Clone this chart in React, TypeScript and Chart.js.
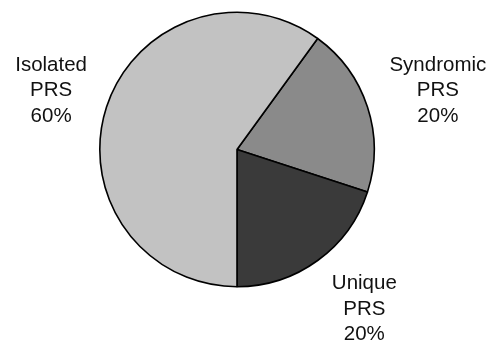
import React, { useEffect, useRef } from "react";
import { Chart, registerables } from "chart.js";

Chart.register(...registerables);

const categories = ["Syndromic", "Unique", "Isolated"];
const subLabels = ["PRS", "PRS", "PRS"];
const values = [20, 20, 60];
const colors = ["#8a8a8a", "#3a3a3a", "#c2c2c2"];
// label anchor offsets relative to pie center, in radius units
const labelOffsets = [
  [1.464, -0.43],
  [0.928, 1.163],
  [-1.355, -0.43],
];

const labelPlugin = {
  id: "outerLabels",
  afterDatasetsDraw(chart: any) {
    const meta = chart.getDatasetMeta(0);
    const ctx = chart.ctx;
    ctx.save();
    ctx.fillStyle = "#111";
    ctx.font = "20.5px 'Liberation Sans', Arial, sans-serif";
    ctx.textAlign = "center";
    ctx.textBaseline = "middle";
    meta.data.forEach((arc: any, i: number) => {
      const p = arc.getProps(["x", "y", "outerRadius"], true);
      const cx = p.x + labelOffsets[i][0] * p.outerRadius;
      const cy = p.y + labelOffsets[i][1] * p.outerRadius;
      const lines = [categories[i], subLabels[i], values[i] + "%"];
      const lh = 25.5;
      lines.forEach((t, j) => {
        ctx.fillText(t, cx, cy + (j - 1) * lh);
      });
    });
    ctx.restore();
  },
};

export default function App() {
  const ref = useRef<HTMLCanvasElement>(null);
  useEffect(() => {
    document.body.style.margin = "0";
    const chart = new Chart(ref.current!, {
      type: "pie",
      data: {
        labels: categories,
        datasets: [
          {
            data: values,
            backgroundColor: colors,
            borderColor: "#000",
            borderWidth: 1.6,
          },
        ],
      },
      options: {
        animation: false,
        responsive: false,
        rotation: 36,
        layout: { padding: { top: 11.5, bottom: 61.5, left: 99, right: 121 } },
        plugins: { legend: { display: false }, tooltip: { enabled: false } },
      },
      plugins: [labelPlugin],
    });
    return () => chart.destroy();
  }, []);
  return (
    <div style={{ width: 496, height: 349, background: "#fff" }}>
      <canvas ref={ref} width={496} height={349} />
    </div>
  );
}
